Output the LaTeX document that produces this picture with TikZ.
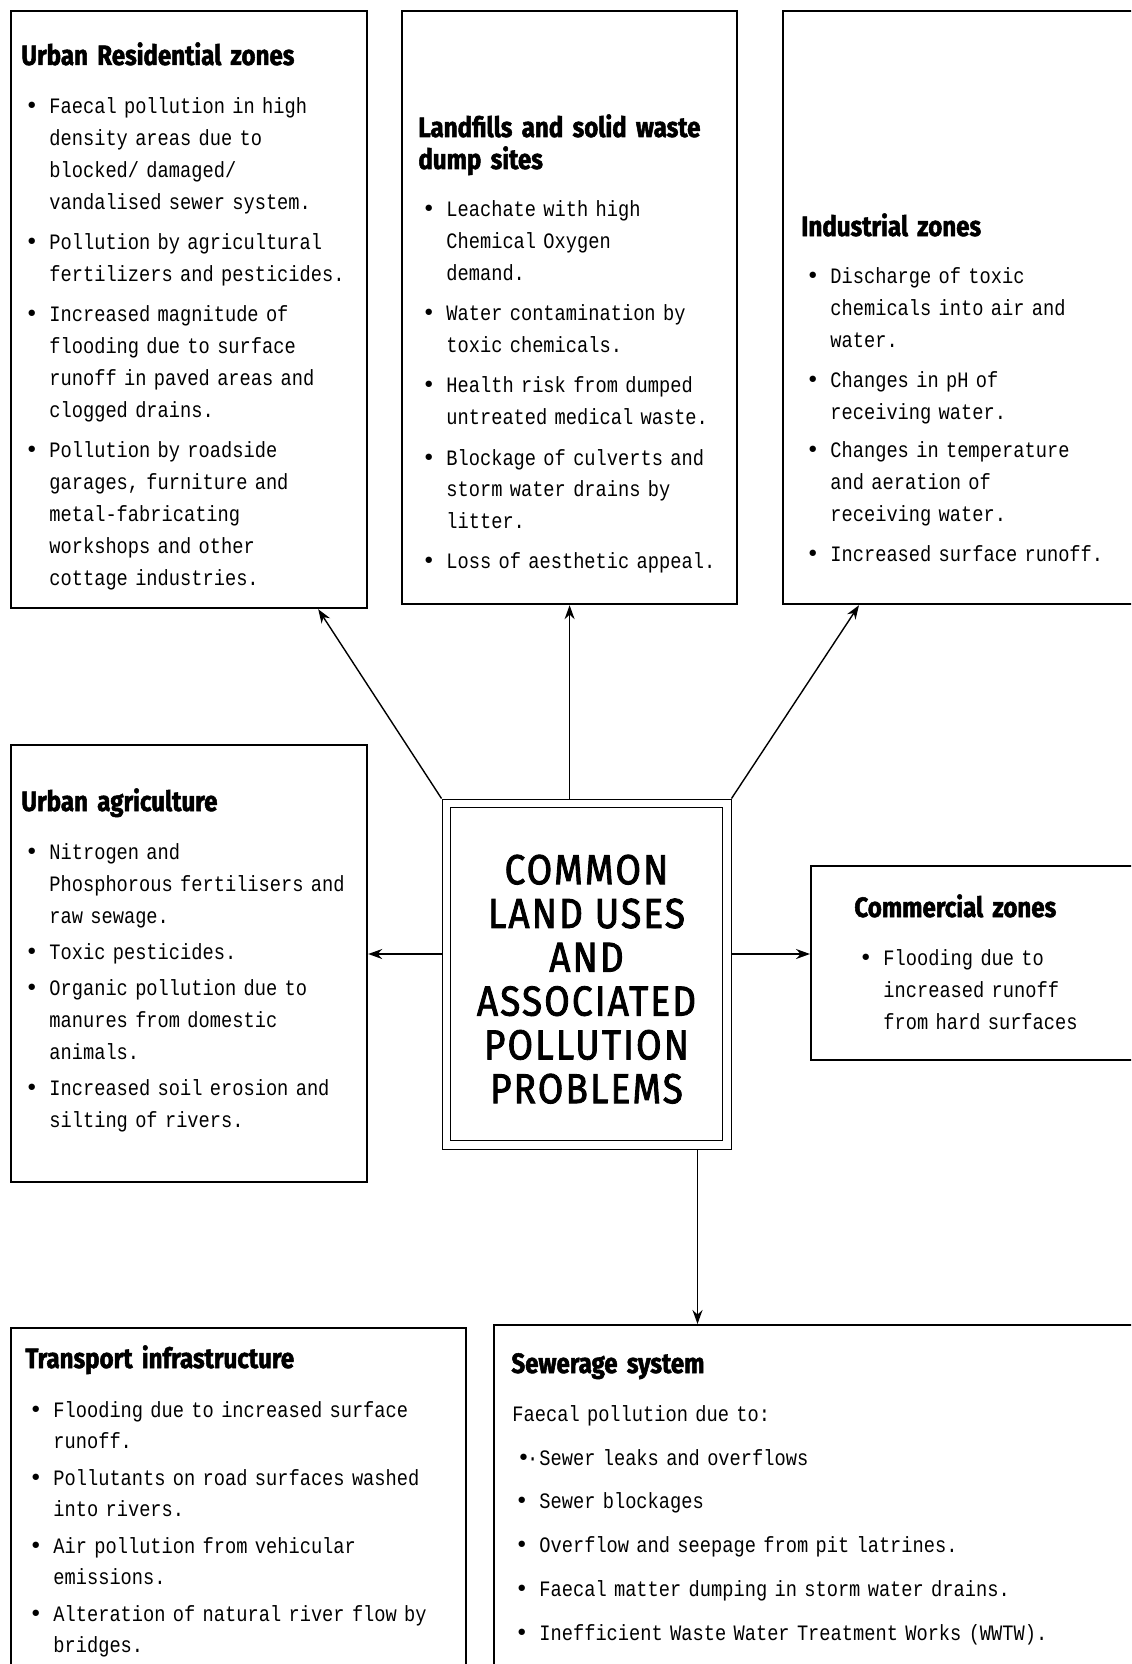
\documentclass[tikz,border=0pt]{standalone}
\usepackage{fontspec}
\setmonofont[FakeStretch=0.85]{Liberation Mono}
\newfontfamily\headfont[FakeStretch=0.86,BoldFeatures={FakeBold=1.8}]{Fira Sans}
\newfontfamily\corefont[FakeStretch=0.88,LetterSpace=5,FakeBold=2]{Fira Sans}
\newfontfamily\dotfont{DejaVu Sans}
\usetikzlibrary{positioning,arrows.meta,calc}

% bullet hung left of the text
\newcommand\bul{\leavevmode\llap{{\dotfont\fontsize{11}{11}\selectfont•}\hspace{5.5pt}}}

\tikzset{
  zone/.style={draw, line width=1.1pt, anchor=north west, inner sep=0pt},
  zonehead/.style={anchor=base west, inner sep=0pt, text width=170pt, align=left,
    font=\headfont\bfseries\fontsize{14}{16}\selectfont},
  zonetext/.style={anchor=base west, inner sep=0pt, text width=280pt, align=left,
    font=\ttfamily\fontsize{11}{16}\selectfont},
  corebox/.style={draw, line width=0.5pt, minimum width=144.5pt, minimum height=175pt, inner sep=0pt},
  coretitle/.style={inner sep=0pt, align=center, font=\corefont\fontsize{21}{21.9}\selectfont},
  link/.style={-{Stealth[length=7pt,width=5pt]}, line width=0.7pt},
}

\begin{document}
\begin{tikzpicture}[x=1pt, y=-1pt]
	\useasboundingbox (0,0) rectangle (565.5,832);
	\clip (0,0) rectangle (565.5,832);

	% boxes
	\node[zone, minimum width=178pt, minimum height=298.5pt] (ur) at (5,5) {};
	\node[zone, minimum width=167.5pt, minimum height=296.5pt] (lf) at (200.5,5) {};
	\node[zone, minimum width=190pt, minimum height=296.5pt] (iz) at (391,5) {};
	\node[zone, minimum width=178pt, minimum height=218.5pt] (ua) at (5,372) {};
	\node[zone, minimum width=170pt, minimum height=97pt] (com) at (405,432.5) {};
	\node[zone, minimum width=227.5pt, minimum height=190pt] (tr) at (5,663.5) {};
	\node[zone, minimum width=330pt, minimum height=190pt] (sew) at (246.5,662) {};

	% centre
	\node[corebox] (core) at (293.25,487) {};
	\draw[line width=0.5pt] ([shift={(4.5,4.5)}]core.north west) rectangle ([shift={(-4.5,-4.5)}]core.south east);
	\node[coretitle] (coretext) at ([yshift=-2.6pt]core.center) {COMMON\\LAND USES\\AND\\ASSOCIATED\\POLLUTION\\PROBLEMS};

	% urban residential
	\node[zonehead] (urhead) at (10.5,32.5) {Urban Residential zones};
	\node[zonetext] (urtext) at (24.5,57) {\bul Faecal pollution in high\\density areas due to\\blocked/ damaged/\\vandalised sewer system.\\[4pt]
		\bul Pollution by agricultural\\fertilizers and pesticides.\\[4pt]
		\bul Increased magnitude of\\flooding due to surface\\runoff in paved areas and\\clogged drains.\\[4pt]
		\bul Pollution by roadside\\garages, furniture and\\metal-fabricating\\workshops and other\\cottage industries.};

	% landfills
	\node[zonehead] (lfhead) at (209,68.5) {Landfills and solid waste\\dump sites};
	\node[zonetext] (lftext) at (223,108.5) {\bul Leachate with high\\Chemical Oxygen\\demand.\\[4pt]
		\bul Water contamination by\\toxic chemicals.\\[4pt]
		\bul Health risk from dumped\\untreated medical waste.\\[4pt]
		\bul Blockage of culverts and\\storm water drains by\\litter.\\[4pt]
		\bul Loss of aesthetic appeal.};

	% industrial
	\node[zonehead] (izhead) at (400.5,118) {Industrial zones};
	\node[zonetext] (iztext) at (415,142) {\bul Discharge of toxic\\chemicals into air and\\water.\\[3.5pt]
		\bul Changes in pH of\\receiving water.\\[3.5pt]
		\bul Changes in temperature\\and aeration of\\receiving water.\\[3.5pt]
		\bul Increased surface runoff.};

	% urban agriculture
	\node[zonehead] (uahead) at (10.5,405.5) {Urban agriculture};
	\node[zonetext] (uatext) at (24.5,429.5) {\bul Nitrogen and\\Phosphorous fertilisers and\\raw sewage.\\[2pt]
		\bul Toxic pesticides.\\[2pt]
		\bul Organic pollution due to\\manures from domestic\\animals.\\[2pt]
		\bul Increased soil erosion and\\silting of rivers.};

	% commercial
	\node[zonehead] (comhead) at (427,458.5) {Commercial zones};
	\node[zonetext] (comtext) at (441.5,482.5) {\bul Flooding due to\\increased runoff\\from hard surfaces};

	% transport
	\node[zonehead] (trhead) at (12.5,684) {Transport infrastructure};
	\node[zonetext, font=\ttfamily\fontsize{11}{15.5}\selectfont] (trtext) at (26.5,708.5) {\bul Flooding due to increased surface\\runoff.\\[3pt]
		\bul Pollutants on road surfaces washed\\into rivers.\\[3pt]
		\bul Air pollution from vehicular\\emissions.\\[3pt]
		\bul Alteration of natural river flow by\\bridges.};

	% sewerage
	\node[zonehead] (sewhead) at (255.5,686.5) {Sewerage system};
	\node[zonetext] (sewintro) at (256,710.5) {Faecal pollution due to:};
	\node[zonetext, font=\ttfamily\fontsize{11}{21.9}\selectfont] (sewtext) at (269.5,732.5) {\leavevmode\llap{{\dotfont\fontsize{11}{11}\selectfont•}\kern-1.5pt\textperiodcentered\hspace{0.5pt}}Sewer leaks and overflows\\
		\bul Sewer blockages\\
		\bul Overflow and seepage from pit latrines.\\
		\bul Faecal matter dumping in storm water drains.\\
		\bul Inefficient Waste Water Treatment Works (WWTW).};

	% arrows
	\draw[link] (core.north west) -- ([xshift=-25pt]ur.south east);
	\draw[link] (core.north -| lf.south) -- (lf.south);
	\draw[link] (core.north east) -- ([xshift=38.5pt]iz.south west);
	\draw[link] ([yshift=10pt]core.west) -- ([yshift=10pt]core.west -| ua.east);
	\draw[link] ([yshift=10pt]core.east) -- ([yshift=10pt]core.east -| com.west);
	\draw[link] ([xshift=-17pt]core.south east) -- ([xshift=-17pt]core.south east |- sew.north);
\end{tikzpicture}
\end{document}
